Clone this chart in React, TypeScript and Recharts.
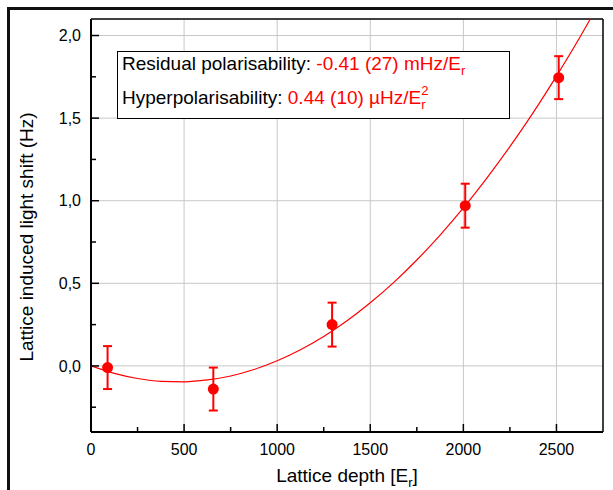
import {
  ScatterChart,
  Scatter,
  XAxis,
  YAxis,
  ErrorBar,
  ReferenceLine,
} from "recharts";

// measured points (lattice depth in E_r, shift in Hz)
const depth = [89, 657, 1295, 2010, 2512];
const shift = [-0.01, -0.14, 0.25, 0.97, 1.745];
const shiftErr = [0.13, 0.13, 0.133, 0.133, 0.13];

// fit curve
const fitX = [
  0, 125, 250, 375, 500, 625, 750, 875, 1000, 1125, 1250, 1375, 1500, 1625,
  1750, 1875, 2000, 2125, 2250, 2375, 2500, 2625, 2682,
];
const fitY = [
  0, -0.045, -0.076, -0.093, -0.096, -0.085, -0.061, -0.022, 0.031, 0.098,
  0.178, 0.273, 0.382, 0.504, 0.641, 0.792, 0.956, 1.135, 1.327, 1.533, 1.754,
  1.988, 2.1,
];

const xTicks = [0, 250, 500, 750, 1000, 1250, 1500, 1750, 2000, 2250, 2500];
const yTicks = [-0.25, 0, 0.25, 0.5, 0.75, 1, 1.25, 1.5, 1.75, 2];
const xGrid = [500, 1000, 1500, 2000, 2500];
const yGrid = [0, 0.5, 1, 1.5, 2];

const points = depth.map((d, i) => ({ x: d, y: shift[i], err: shiftErr[i] }));
const fit = fitX.map((d, i) => ({ x: d, y: fitY[i] }));

const FONT = "'Liberation Sans', Arial, Helvetica, sans-serif";
const RED = "#ff0000";

const isMajorX = (v: number) => v % 500 === 0;
const isMajorY = (v: number) => Math.abs(v * 2 - Math.round(v * 2)) < 1e-6;

function XTick(props: any) {
  const { x, y, payload } = props;
  const v = payload.value;
  const major = isMajorX(v);
  return (
    <g>
      <line x1={x} x2={x} y1={y} y2={y - (major ? 8 : 5)} stroke="#000" strokeWidth={1.5} />
      {major && (
        <text x={x} y={y + 23} textAnchor="middle" fontSize={16} fontFamily={FONT} fill="#000">
          {v}
        </text>
      )}
    </g>
  );
}

function YTick(props: any) {
  const { x, y, payload } = props;
  const v = payload.value;
  const major = isMajorY(v);
  return (
    <g>
      <line x1={x} x2={x + (major ? 8 : 5)} y1={y} y2={y} stroke="#000" strokeWidth={1.5} />
      {major && (
        <text x={x - 10} y={y} dy="0.36em" textAnchor="end" fontSize={16} fontFamily={FONT} fill="#000">
          {v.toFixed(1).replace(".", ",")}
        </text>
      )}
    </g>
  );
}

function XTitle() {
  return (
    <text x={347} y={482} textAnchor="middle" fontSize={19} fontFamily={FONT} fill="#000">
      Lattice depth [E
      <tspan fontSize={13} dy={5}>r</tspan>
      <tspan dy={-5}>]</tspan>
    </text>
  );
}

function YTitle() {
  return (
    <text
      x={33}
      y={237}
      transform="rotate(-90, 33, 237)"
      textAnchor="middle"
      fontSize={19}
      fontFamily={FONT}
      fill="#000"
    >
      Lattice induced light shift (Hz)
    </text>
  );
}

const Dot = (props: any) => <circle cx={props.cx} cy={props.cy} r={5.5} fill={RED} />;

export default function App() {
  return (
    <>
      <style>{`html,body{overflow:hidden}`}</style>
      <div
        style={{
          position: "absolute",
          left: 7,
          top: 7,
          width: 640,
          height: 520,
          border: "3px solid #111",
        }}
      />
      <div style={{ position: "absolute", left: 0, top: 0, width: 613, height: 490 }}>
        <ScatterChart
          width={613}
          height={490}
          margin={{ top: 19, right: 10, bottom: 28, left: 31 }}
        >
          <XAxis
            type="number"
            dataKey="x"
            domain={[0, 2750]}
            ticks={xTicks}
            interval={0}
            height={30}
            tickSize={0}
            tickMargin={0}
            tickLine={false}
            tick={<XTick />}
            axisLine={{ stroke: "#000", strokeWidth: 2 }}
            allowDataOverflow
            label={<XTitle />}
          />
          <YAxis
            type="number"
            dataKey="y"
            domain={[-0.4, 2.1]}
            ticks={yTicks}
            interval={0}
            width={60}
            tickSize={0}
            tickMargin={0}
            tickLine={false}
            tick={<YTick />}
            axisLine={{ stroke: "#000", strokeWidth: 2 }}
            allowDataOverflow
            label={<YTitle />}
          />
          {xGrid.map((v) => (
            <ReferenceLine key={"gx" + v} x={v} stroke="#c8c8c8" strokeWidth={1} />
          ))}
          {yGrid.map((v) => (
            <ReferenceLine key={"gy" + v} y={v} stroke="#c8c8c8" strokeWidth={1} />
          ))}
          <ReferenceLine x={2750} stroke="#000" strokeWidth={1.5} />
          <ReferenceLine y={2.1} stroke="#000" strokeWidth={1.5} />
          <Scatter
            data={fit}
            line={{ stroke: RED, strokeWidth: 1.2 }}
            lineJointType="monotoneX"
            shape={() => <g />}
            isAnimationActive={false}
          />
          <Scatter data={points} shape={<Dot />} isAnimationActive={false}>
            <ErrorBar
              dataKey="err"
              direction="y"
              width={4.5}
              stroke={RED}
              strokeWidth={2}
              isAnimationActive={false}
            />
          </Scatter>
        </ScatterChart>
      </div>
      <svg
        width={613}
        height={490}
        style={{ position: "absolute", left: 0, top: 0, pointerEvents: "none" }}
      >
        <rect x={117.5} y={51.5} width={392} height={67} fill="#fff" stroke="#000" strokeWidth={1} />
        <text x={122} y={70} fontSize={19} fontFamily={FONT} fill="#000">
          Residual polarisability:{" "}
          <tspan fill={RED}>-0.41 (27) mHz/E</tspan>
          <tspan fill={RED} fontSize={13} dy={5}>r</tspan>
        </text>
        <text x={122} y={104} fontSize={19} fontFamily={FONT} fill="#000">
          Hyperpolarisability:{" "}
          <tspan fill={RED}>0.44 (10) µHz/E</tspan>
          <tspan fill={RED} fontSize={13} dy={-9}>2</tspan>
          <tspan fill={RED} fontSize={13} dx={-7.2} dy={14}>r</tspan>
        </text>
      </svg>
    </>
  );
}
